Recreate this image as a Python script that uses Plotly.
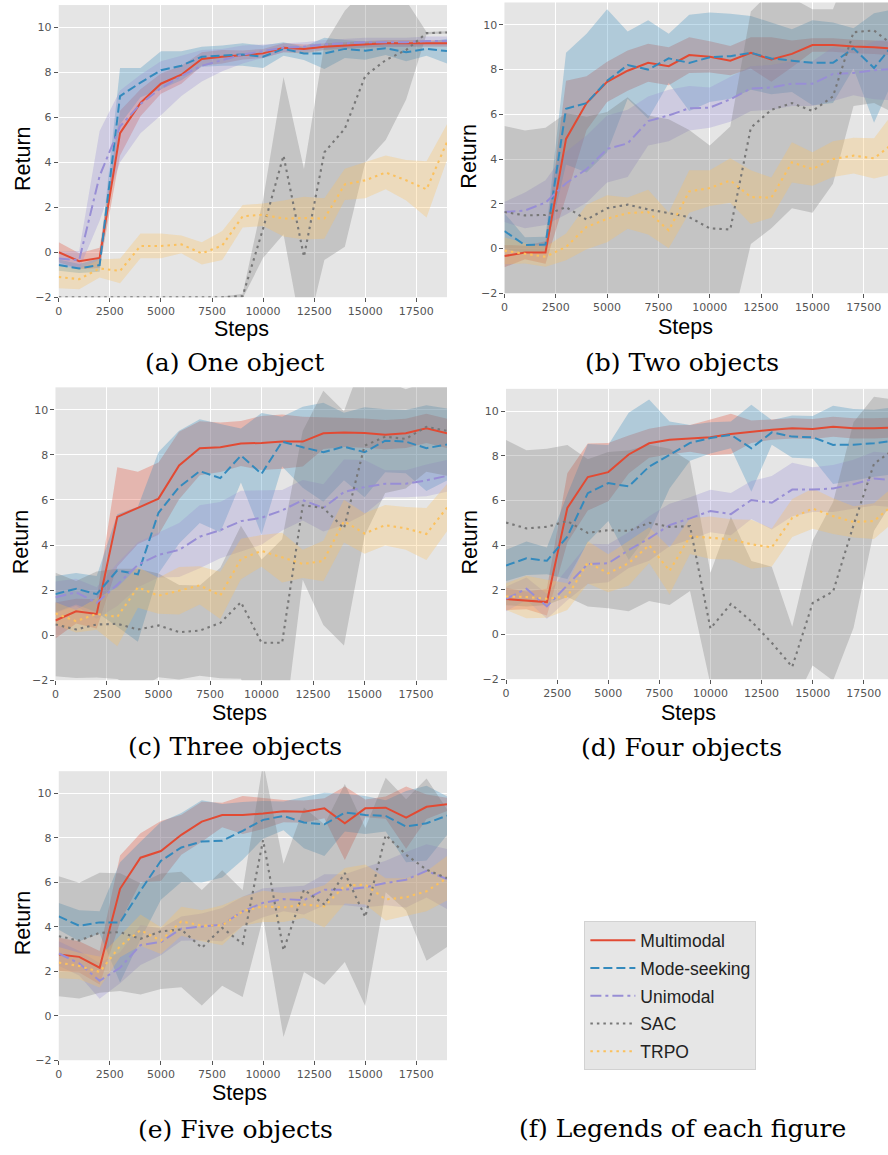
import plotly.graph_objects as go

W, H = 888, 1155


def fx(px):
    return px / W


def fy(py):
    return 1 - py / H


steps = [0, 1000, 2000, 3000, 4000, 5000, 6000, 7000, 8000, 9000,
         10000, 11000, 12000, 13000, 14000, 15000, 16000, 17000, 18000, 19000]

methods = ["Multimodal", "Mode-seeking", "Unimodal", "SAC", "TRPO"]
x_ticks = [0, 2500, 5000, 7500, 10000, 12500, 15000, 17500]
x_tick_text = ["0", "2500", "5000", "7500", "10000", "12500", "15000", "17500"]
y_ticks = [-2, 0, 2, 4, 6, 8, 10]
y_tick_text = ["\u22122", "0", "2", "4", "6", "8", "10"]
captions = ["(a) One object", "(b) Two objects", "(c) Three objects",
            "(d) Four objects", "(e) Five objects", "(f) Legends of each figure"]

# ---- (a) One object ----
a_multi_mean = [0.0, -0.4, -0.25, 5.3, 6.65, 7.5, 7.9, 8.6, 8.7, 8.78, 8.85, 9.1, 9.05, 9.15, 9.2, 9.25, 9.3, 9.3, 9.3, 9.3]
a_multi_std = [0.45, 0.35, 0.45, 1.0, 0.6, 0.45, 0.4, 0.3, 0.3, 0.2, 0.2, 0.2, 0.2, 0.15, 0.15, 0.15, 0.15, 0.15, 0.15, 0.15]
a_mode_mean = [-0.57, -0.72, -0.57, 6.95, 7.55, 8.1, 8.3, 8.7, 8.75, 8.8, 8.7, 9.05, 8.85, 8.85, 9.05, 8.97, 9.08, 8.9, 9.05, 8.95]
a_mode_std = [0.25, 0.2, 0.3, 1.25, 0.65, 0.85, 0.65, 0.45, 0.45, 0.5, 0.5, 0.3, 0.3, 0.7, 0.4, 0.4, 0.3, 0.4, 0.3, 0.55]
a_uni_mean = [-0.28, -0.35, 3.4, 5.6, 6.6, 7.3, 7.85, 8.3, 8.55, 8.8, 8.95, 9.1, 9.15, 9.25, 9.3, 9.35, 9.35, 9.35, 9.4, 9.4]
a_uni_std = [0.3, 0.4, 2.0, 1.6, 1.3, 1.2, 0.9, 0.7, 0.5, 0.4, 0.3, 0.2, 0.2, 0.2, 0.2, 0.2, 0.2, 0.2, 0.2, 0.2]
a_sac_mean = [-2.0, -2.0, -2.0, -2.0, -2.0, -2.0, -2.0, -2.0, -2.0, -1.95, 1.05, 4.3, -0.2, 4.45, 5.5, 7.85, 8.55, 9.0, 9.75, 9.78]
a_sac_std = [0.02, 0.02, 0.02, 0.02, 0.02, 0.02, 0.02, 0.02, 0.02, 0.1, 1.3, 3.5, 3.9, 4.8, 5.25, 3.85, 3.55, 2.2, 0.05, 0.05]
a_trpo_mean = [-1.1, -1.2, -0.72, -0.83, 0.28, 0.28, 0.35, -0.05, 0.3, 1.6, 1.67, 1.5, 1.52, 1.5, 3.02, 3.2, 3.55, 3.2, 2.8, 4.9]
a_trpo_std = [0.5, 0.45, 0.4, 0.55, 0.55, 0.55, 0.4, 0.5, 0.65, 0.5, 0.5, 0.8, 0.95, 0.9, 0.7, 0.8, 0.75, 0.9, 1.25, 0.8]

# ---- (b) Two objects ----
b_multi_mean = [-0.34, -0.18, -0.18, 4.9, 6.5, 7.45, 7.95, 8.3, 8.15, 8.65, 8.57, 8.4, 8.75, 8.45, 8.7, 9.1, 9.1, 9.03, 9.0, 8.93]
b_multi_std = [0.5, 0.3, 0.5, 2.6, 1.2, 0.9, 0.9, 0.85, 0.85, 0.8, 0.7, 0.65, 0.7, 1.0, 0.6, 0.3, 0.3, 0.3, 0.3, 0.3]
b_mode_mean = [0.78, 0.15, 0.18, 6.25, 6.5, 7.5, 8.2, 8.0, 8.5, 8.3, 8.55, 8.6, 8.75, 8.5, 8.4, 8.3, 8.3, 8.95, 8.07, 9.2]
b_mode_std = [0.8, 0.35, 0.35, 2.5, 3.1, 3.2, 1.5, 2.2, 1.1, 2.15, 2.0, 1.9, 1.65, 1.6, 1.4, 1.9, 1.8, 0.9, 2.45, 1.5]
b_uni_mean = [1.63, 1.7, 2.05, 2.92, 3.55, 4.45, 4.7, 5.7, 5.95, 6.27, 6.3, 6.67, 7.15, 7.2, 7.37, 7.37, 7.8, 7.85, 7.97, 8.03]
b_uni_std = [0.45, 0.8, 1.0, 1.4, 1.5, 1.5, 1.5, 1.1, 1.15, 1.0, 0.9, 1.0, 1.0, 1.0, 1.0, 1.0, 1.2, 1.0, 1.3, 1.4]
b_sac_mean = [1.63, 1.48, 1.5, 1.85, 1.29, 1.8, 1.96, 1.75, 1.58, 1.4, 0.9, 0.85, 5.4, 6.2, 6.5, 6.15, 6.8, 9.67, 9.75, 9.04]
b_sac_std = [3.85, 3.8, 3.9, 4.2, 4.6, 4.3, 4.8, 4.2, 4.2, 3.9, 3.7, 4.6, 5.2, 5.3, 4.7, 4.55, 3.9, 3.3, 3.25, 3.0]
b_trpo_mean = [-0.1, -0.22, -0.37, 0.07, 0.96, 1.33, 1.58, 1.63, 0.81, 2.55, 2.7, 3.04, 2.3, 2.27, 3.85, 3.55, 4.0, 4.15, 4.03, 4.75]
b_trpo_std = [0.6, 0.45, 0.45, 0.6, 1.0, 1.05, 0.7, 1.0, 0.8, 0.95, 0.8, 1.0, 1.2, 0.9, 0.9, 0.75, 0.8, 0.8, 0.9, 1.4]

# ---- (c) Three objects ----
c_multi_mean = [0.65, 1.06, 0.94, 5.25, 5.65, 6.06, 7.53, 8.3, 8.34, 8.51, 8.53, 8.59, 8.59, 8.96, 9.0, 8.97, 8.9, 8.96, 9.18, 8.96]
c_multi_std = [0.8, 0.55, 0.65, 2.2, 1.6, 1.6, 1.5, 1.2, 1.1, 1.0, 1.2, 1.2, 1.1, 0.7, 0.65, 0.65, 0.65, 0.65, 0.65, 0.65]
c_mode_mean = [1.82, 2.06, 1.82, 2.87, 2.7, 5.43, 6.57, 7.28, 6.97, 7.97, 7.16, 8.59, 8.34, 8.12, 8.37, 8.12, 8.63, 8.59, 8.3, 8.46]
c_mode_std = [0.8, 0.7, 0.8, 2.5, 3.0, 2.7, 2.5, 2.3, 2.4, 1.2, 2.7, 1.1, 1.8, 2.2, 1.5, 2.0, 1.4, 1.4, 1.9, 1.6]
c_uni_mean = [1.68, 1.9, 1.43, 2.24, 3.12, 3.56, 3.78, 4.37, 4.66, 5.06, 5.21, 5.54, 5.99, 5.65, 6.35, 6.57, 6.72, 6.72, 6.87, 7.07]
c_uni_std = [0.7, 0.6, 0.7, 0.95, 1.0, 1.0, 1.2, 1.4, 1.25, 1.35, 1.2, 0.9, 0.9, 1.05, 1.45, 1.2, 0.6, 0.6, 0.7, 0.7]
c_sac_mean = [0.47, 0.25, 0.47, 0.5, 0.25, 0.43, 0.13, 0.2, 0.54, 1.46, -0.34, -0.34, 5.76, 5.65, 4.74, 8.41, 8.81, 8.71, 9.25, 9.07]
c_sac_std = [2.3, 2.15, 2.35, 2.45, 2.7, 2.3, 2.1, 2.0, 2.45, 3.4, 3.7, 4.6, 3.3, 5.2, 5.2, 4.0, 2.5, 2.2, 2.0, 2.0]
c_trpo_mean = [0.96, 0.62, 0.94, 0.81, 2.12, 1.75, 1.97, 2.21, 1.76, 3.38, 3.74, 3.44, 3.16, 3.29, 5.06, 4.51, 4.88, 4.74, 4.49, 5.66]
c_trpo_std = [0.5, 0.5, 0.7, 1.3, 0.9, 0.8, 1.05, 0.85, 1.05, 0.9, 0.7, 1.1, 0.63, 0.9, 0.95, 0.9, 0.9, 0.95, 1.15, 1.05]

# ---- (d) Four objects ----
d_multi_mean = [1.59, 1.53, 1.45, 5.67, 7.05, 7.27, 8.06, 8.56, 8.72, 8.78, 8.83, 8.98, 9.08, 9.17, 9.23, 9.2, 9.3, 9.23, 9.23, 9.27]
d_multi_std = [0.5, 0.4, 0.6, 1.55, 1.5, 1.3, 0.85, 0.65, 0.65, 0.6, 0.8, 0.9, 0.5, 0.45, 0.45, 0.45, 0.45, 0.45, 0.45, 0.45]
d_mode_mean = [3.09, 3.41, 3.3, 4.38, 6.33, 6.78, 6.63, 7.52, 8.04, 8.58, 8.8, 8.94, 8.34, 9.05, 8.86, 8.83, 8.49, 8.5, 8.56, 8.68]
d_mode_std = [0.7, 0.75, 0.6, 1.9, 2.2, 1.7, 3.3, 3.0, 1.5, 0.8, 0.7, 0.6, 1.95, 0.55, 0.95, 0.95, 1.75, 1.6, 1.5, 1.5]
d_uni_mean = [1.59, 2.05, 1.26, 2.23, 3.16, 3.19, 3.78, 4.3, 4.9, 5.2, 5.53, 5.39, 6.02, 5.9, 6.49, 6.49, 6.54, 6.73, 6.98, 6.9]
d_uni_std = [0.55, 0.5, 0.55, 0.7, 0.9, 0.85, 0.8, 1.0, 0.95, 0.95, 0.95, 0.95, 0.85, 1.2, 1.2, 1.0, 1.05, 1.1, 1.2, 1.2]
d_sac_mean = [5.01, 4.75, 4.82, 5.08, 4.55, 4.67, 4.64, 5.0, 4.82, 4.85, 0.27, 1.37, 0.59, -0.37, -1.45, 1.41, 1.93, 4.9, 7.64, 8.31]
d_sac_std = [3.7, 3.5, 3.5, 3.4, 3.3, 3.5, 3.6, 3.5, 3.5, 2.9, 2.5, 3.9, 2.7, 3.4, 1.8, 2.8, 4.0, 4.6, 3.0, 2.2]
d_trpo_mean = [1.7, 1.68, 1.6, 1.7, 3.23, 2.74, 3.19, 4.0, 2.85, 4.4, 4.33, 4.26, 4.04, 3.9, 5.22, 5.64, 5.3, 5.04, 5.08, 5.86]
d_trpo_std = [0.6, 0.95, 0.85, 0.6, 0.95, 0.85, 1.0, 0.8, 1.05, 0.8, 0.95, 0.9, 1.1, 0.85, 0.85, 0.9, 0.8, 0.7, 0.8, 0.8]

# ---- (e) Five objects ----
e_multi_mean = [2.76, 2.65, 2.16, 5.71, 7.11, 7.41, 8.14, 8.73, 9.03, 9.03, 9.1, 9.2, 9.18, 9.33, 8.66, 9.33, 9.36, 8.91, 9.4, 9.51]
e_multi_std = [0.75, 0.7, 0.75, 1.5, 1.1, 1.35, 0.9, 0.9, 0.55, 0.85, 0.7, 0.5, 0.5, 0.45, 1.65, 0.4, 0.5, 1.4, 0.55, 0.3]
e_mode_mean = [4.47, 4.05, 4.2, 4.2, 5.63, 6.97, 7.57, 7.84, 7.87, 8.32, 8.81, 8.99, 8.69, 8.61, 9.14, 9.03, 8.99, 8.51, 8.66, 9.0]
e_mode_std = [0.6, 0.7, 0.5, 2.7, 2.2, 1.75, 1.55, 1.85, 1.65, 1.3, 0.85, 0.65, 1.15, 1.42, 0.85, 0.85, 0.7, 1.6, 1.68, 0.87]
e_uni_mean = [2.8, 2.36, 1.57, 2.16, 3.18, 3.32, 3.92, 4.0, 4.1, 4.7, 5.08, 5.25, 5.2, 5.67, 5.67, 5.78, 5.97, 6.12, 6.52, 6.15]
e_uni_std = [0.55, 0.55, 0.8, 0.7, 0.9, 0.6, 0.55, 0.6, 0.75, 0.65, 0.65, 0.55, 0.65, 0.7, 0.7, 0.9, 1.0, 1.25, 1.2, 1.35]
e_sac_mean = [3.58, 3.38, 3.73, 3.76, 3.46, 3.8, 3.88, 3.06, 3.95, 3.24, 7.9, 2.94, 5.67, 5.0, 6.42, 4.44, 8.13, 7.24, 6.57, 6.19]
e_sac_std = [2.7, 2.6, 2.7, 2.65, 2.5, 2.6, 2.6, 2.6, 2.6, 2.4, 3.5, 3.9, 3.7, 3.6, 4.0, 4.0, 2.57, 2.5, 4.1, 3.1]
e_trpo_mean = [2.39, 2.24, 1.97, 3.13, 3.85, 3.38, 4.25, 4.05, 4.07, 4.7, 4.92, 4.87, 5.0, 4.92, 5.85, 5.9, 5.23, 5.33, 5.6, 6.19]
e_trpo_std = [0.7, 0.6, 0.7, 0.5, 0.7, 0.6, 0.65, 0.7, 0.9, 0.65, 0.7, 0.65, 0.6, 0.95, 0.8, 0.9, 0.95, 0.85, 0.9, 1.0]

panels = [
    [(a_multi_mean, a_multi_std), (a_mode_mean, a_mode_std), (a_uni_mean, a_uni_std), (a_sac_mean, a_sac_std), (a_trpo_mean, a_trpo_std)],
    [(b_multi_mean, b_multi_std), (b_mode_mean, b_mode_std), (b_uni_mean, b_uni_std), (b_sac_mean, b_sac_std), (b_trpo_mean, b_trpo_std)],
    [(c_multi_mean, c_multi_std), (c_mode_mean, c_mode_std), (c_uni_mean, c_uni_std), (c_sac_mean, c_sac_std), (c_trpo_mean, c_trpo_std)],
    [(d_multi_mean, d_multi_std), (d_mode_mean, d_mode_std), (d_uni_mean, d_uni_std), (d_sac_mean, d_sac_std), (d_trpo_mean, d_trpo_std)],
    [(e_multi_mean, e_multi_std), (e_mode_mean, e_mode_std), (e_uni_mean, e_uni_std), (e_sac_mean, e_sac_std), (e_trpo_mean, e_trpo_std)],
]

# ---- styling ----
colors = ["#E24A33", "#348ABD", "#988ED5", "#777777", "#FBC15E"]
fills = ["rgba(226,74,51,0.3)", "rgba(52,138,189,0.3)", "rgba(152,142,213,0.3)",
         "rgba(119,119,119,0.3)", "rgba(251,193,94,0.3)"]
dashes = ["solid", "9px,4px", "11px,4px,3px,4px", "2.5px,4px", "2.5px,4px"]
widths = [2.0, 2.0, 2.0, 2.1, 2.1]

# plot-area boxes in page pixels: left, right, top, bottom, x max
boxes = [
    (55.0, 445.0, 5.1, 299.0, 19000),
    (502.7, 888.0, 2.5, 295.0, 18680),
    (51.7, 445.0, 389.7, 684.3, 19000),
    (504.3, 888.0, 391.2, 683.3, 18685),
    (55.0, 445.0, 775.9, 1066.7, 19000),
]

fig = go.Figure()

for p, series in enumerate(panels):
    ax = "" if p == 0 else str(p + 1)
    # bands first (matplotlib draws fills below lines)
    for m, (mean, std) in enumerate(series):
        upper = [v + s for v, s in zip(mean, std)]
        lower = [v - s for v, s in zip(mean, std)]
        fig.add_trace(go.Scatter(
            x=steps + steps[::-1], y=upper + lower[::-1],
            fill="toself", fillcolor=fills[m], line=dict(width=0),
            mode="lines", hoverinfo="skip", showlegend=False,
            legendgroup=methods[m], xaxis="x" + ax, yaxis="y" + ax))
    for m, (mean, std) in enumerate(series):
        fig.add_trace(go.Scatter(
            x=steps, y=mean, mode="lines", name=methods[m],
            line=dict(color=colors[m], width=widths[m], dash=dashes[m]),
            showlegend=(p == 0), legendgroup=methods[m],
            xaxis="x" + ax, yaxis="y" + ax))

layout = dict(
    width=W, height=H, margin=dict(l=0, r=0, t=0, b=0),
    paper_bgcolor="white", plot_bgcolor="#E5E5E5",
)

tickfont = dict(family="DejaVu Sans", size=11, color="#555555")
for p, (l, r, t, b, xmax) in enumerate(boxes):
    sfx = "" if p == 0 else str(p + 1)
    layout["xaxis" + sfx] = dict(
        domain=[fx(l), min(fx(r), 1)], range=[0, xmax], anchor="y" + sfx,
        tickvals=x_ticks, ticktext=x_tick_text, showgrid=True,
        gridcolor="white", gridwidth=1.3, zeroline=False, showline=False,
        ticks="outside", ticklen=4, tickwidth=1, tickcolor="#555555",
        tickfont=tickfont, fixedrange=True)
    layout["yaxis" + sfx] = dict(
        domain=[fy(b), min(fy(t), 1)], range=[-2, 11], anchor="x" + sfx,
        tickvals=y_ticks, ticktext=y_tick_text, showgrid=True,
        gridcolor="white", gridwidth=1.3, zeroline=False, showline=False,
        ticks="outside", ticklen=4, tickwidth=1, tickcolor="#555555",
        tickfont=tickfont, fixedrange=True)

annotations = []
label_font = dict(family="Liberation Sans", size=21.5, color="black")
steps_pos = [(238.7, 331.5), (685, 329), (237, 717), (688, 717), (237, 1100)]
return_pos = [(19, 159), (466.7, 157), (16.7, 545), (468, 545), (19, 928)]
for (sx, sy) in steps_pos:
    annotations.append(dict(text="Steps", x=fx(sx), y=fy(sy), xref="paper", yref="paper",
                            xanchor="center", yanchor="middle", showarrow=False, font=label_font))
for (rx, ry) in return_pos:
    annotations.append(dict(text="Return", x=fx(rx), y=fy(ry), xref="paper", yref="paper",
                            xanchor="center", yanchor="middle", showarrow=False, font=label_font,
                            textangle=-90))
cap_pos = [(231.7, 365), (681, 365), (232, 751), (681, 752), (232.5, 1136), (681.7, 1135)]
cap_font = dict(family="DejaVu Serif", size=25, color="black")
for txt, (cx, cy) in zip(captions, cap_pos):
    annotations.append(dict(text=txt, x=fx(cx), y=fy(cy), xref="paper", yref="paper",
                            xanchor="center", yanchor="middle", showarrow=False, font=cap_font))
layout["annotations"] = annotations

layout["showlegend"] = True
layout["legend"] = dict(
    x=fx(583), y=fy(927), xanchor="left", yanchor="top",
    bgcolor="#E6E6E6", bordercolor="#D2D2D2", borderwidth=1,
    font=dict(family="Liberation Sans", size=17.5, color="#222222"),
    tracegroupgap=2, itemwidth=45, traceorder="grouped")

fig.update_layout(**layout)
# remove the default 8px body margin so the figure sits at the page origin
fig.write_html("out.html",
               config={"displayModeBar": False},
               post_script="document.body.style.margin='0';document.body.style.overflow='hidden';")
